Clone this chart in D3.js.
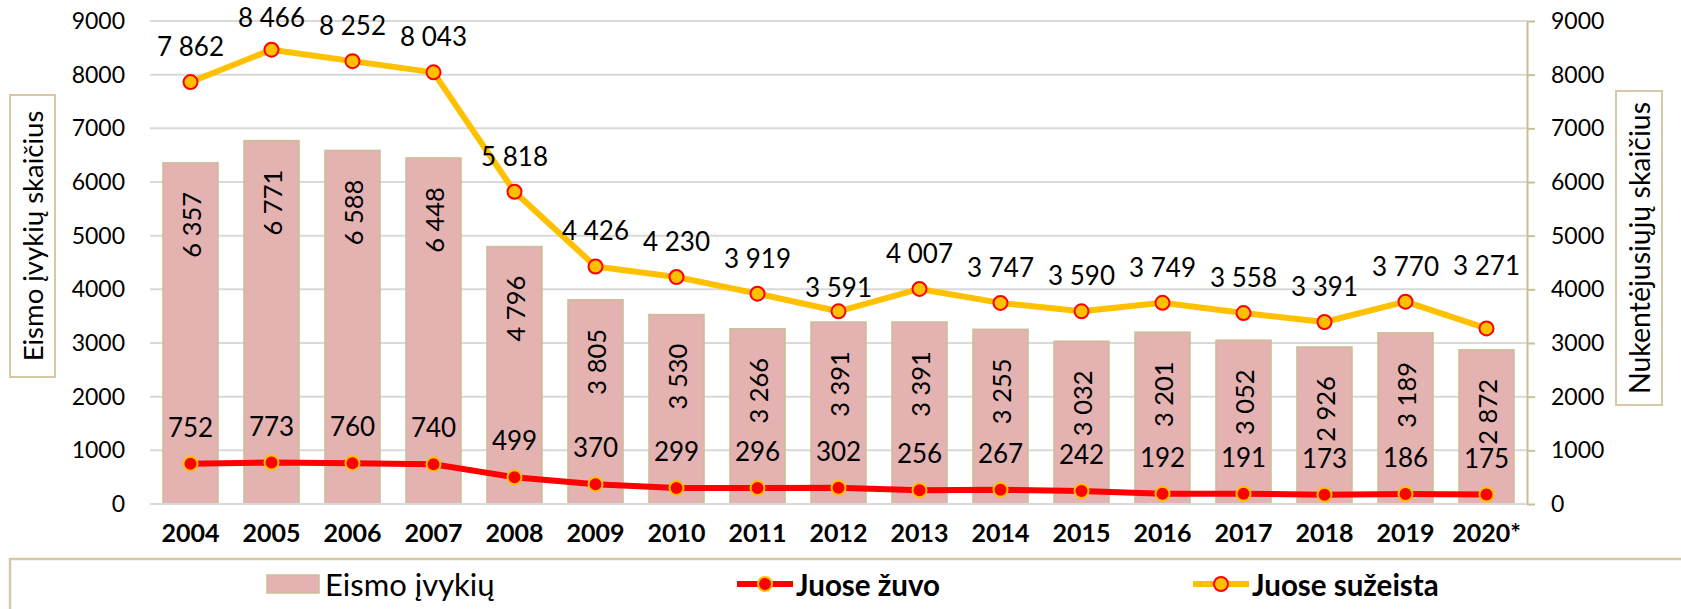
<!DOCTYPE html>
<html><head><meta charset="utf-8">
<script src="https://cdn.jsdelivr.net/npm/d3@7"></script>
<style>body{margin:0;background:#fff;overflow:hidden} svg{display:block} text{font-family:Lato,"Open Sans",sans-serif;fill:#000}</style>
</head><body>
<svg id="c" width="1681" height="609"></svg>
<script>
const years = ["2004","2005","2006","2007","2008","2009","2010","2011","2012","2013","2014","2015","2016","2017","2018","2019","2020*"];
const accidents = [6357,6771,6588,6448,4796,3805,3530,3266,3391,3391,3255,3032,3201,3052,2926,3189,2872];
const killed = [752,773,760,740,499,370,299,296,302,256,267,242,192,191,173,186,175];
const injured = [7862,8466,8252,8043,5818,4426,4230,3919,3591,4007,3747,3590,3749,3558,3391,3770,3271];
const yTicks = [0,1000,2000,3000,4000,5000,6000,7000,8000,9000];
const seriesNames = ["Eismo įvykių","Juose žuvo","Juose sužeista"];
const leftTitle = "Eismo įvykių skaičius";
const rightTitle = "Nukentėjusiųjų skaičius";

const fmt = v => { const s = String(v); return s.length > 3 ? s.slice(0, s.length-3) + " " + s.slice(-3) : s; };

const svg = d3.select("#c");
const L = 150, R = 1527, T = 21, B = 504;
const x = d3.scaleBand().domain(years).range([L, R]).paddingInner(0.32).paddingOuter(0.16);
const y = d3.scaleLinear().domain([0, 9000]).range([B, T]);
const y2 = d3.scaleLinear().domain([0, 9000]).range([B, T]);
const cx = d => x(d) + x.bandwidth()/2;

const GRID = "#d9d9d9", TAN = "#c9bf96";
const BAR = "#e3b2b1", RED = "#ff0000", GOLD = "#ffc000";

// gridlines
svg.append("g").selectAll("line").data(yTicks).join("line")
  .attr("x1", L).attr("x2", R).attr("y1", d => y(d)).attr("y2", d => y(d))
  .attr("stroke", GRID).attr("stroke-width", 2);

// left axis (labels only)
const gl = svg.append("g").attr("transform", `translate(${L},0)`)
  .call(d3.axisLeft(y).tickValues(yTicks).tickFormat(d3.format("d")).tickSize(0).tickPadding(25));
gl.select(".domain").remove();
gl.selectAll("text").style("font-size","23px").style("font-family","Lato");

// right axis
const gr = svg.append("g").attr("transform", `translate(${R},0)`)
  .call(d3.axisRight(y2).tickValues(yTicks).tickFormat(d3.format("d")).tickSize(8).tickSizeOuter(0).tickPadding(16));
gr.select(".domain").attr("stroke", TAN).attr("stroke-width", 2);
gr.selectAll(".tick line").attr("stroke", TAN).attr("stroke-width", 2);
gr.selectAll("text").style("font-size","23px").style("font-family","Lato");

// bars
svg.append("g").selectAll("rect").data(years).join("rect")
  .attr("x", d => x(d)).attr("width", x.bandwidth())
  .attr("y", (d,i) => y(accidents[i])).attr("height", (d,i) => B - y(accidents[i]))
  .attr("fill", BAR).attr("stroke", TAN).attr("stroke-width", 1.5);

// x axis
const gx = svg.append("g").attr("transform", `translate(0,${B})`)
  .call(d3.axisBottom(x).tickSize(0).tickPadding(20));
gx.select(".domain").attr("stroke", GRID).attr("stroke-width", 2).attr("d", `M${L},0H${R}`);
gx.selectAll("text").style("font-size","25px").style("font-weight","bold").style("font-family","Lato");

// bar labels (rotated)
svg.append("g").selectAll("text").data(years).join("text")
  .attr("transform", (d,i) => `translate(${cx(d)},${y(accidents[i]) + 62}) rotate(-90)`)
  .attr("text-anchor","middle").attr("dominant-baseline","central")
  .style("font-size","25.5px").text((d,i) => fmt(accidents[i]));

// lines
const line = d3.line();
function series(vals, stroke, mFill, mStroke) {
  svg.append("path").attr("d", line(years.map((d,i) => [cx(d), y2(vals[i])])))
    .attr("fill","none").attr("stroke", stroke).attr("stroke-width", 6).attr("stroke-linejoin","round");
  svg.append("g").selectAll("circle").data(years).join("circle")
    .attr("cx", d => cx(d)).attr("cy", (d,i) => y2(vals[i])).attr("r", 7)
    .attr("fill", mFill).attr("stroke", mStroke).attr("stroke-width", 2);
}
series(killed, RED, RED, GOLD);
series(injured, GOLD, GOLD, RED);

// point labels
const injuredNudge = {"2005": 3, "2012": 12, "2020*": -27};
svg.append("g").selectAll("text").data(years).join("text")
  .attr("x", d => cx(d)).attr("y", (d,i) => y2(killed[i]) - 37)
  .attr("text-anchor","middle").attr("dominant-baseline","central")
  .style("font-size","26px").text((d,i) => fmt(killed[i]));
svg.append("g").selectAll("text").data(years).join("text")
  .attr("x", d => cx(d)).attr("y", (d,i) => y2(injured[i]) - 36 + (injuredNudge[d] || 0))
  .attr("text-anchor","middle").attr("dominant-baseline","central")
  .style("font-size","26px").text((d,i) => fmt(injured[i]));

// axis title boxes
function titleBox(x0, y0, w, h, txt, fs) {
  svg.append("rect").attr("x", x0).attr("y", y0).attr("width", w).attr("height", h)
    .attr("fill","#fff").attr("stroke", "#d4cba6").attr("stroke-width", 2);
  svg.append("text").attr("transform", `translate(${x0 + w/2},${y0 + h/2}) rotate(-90)`)
    .attr("text-anchor","middle").attr("dominant-baseline","central")
    .style("font-size", fs + "px").text(txt);
}
titleBox(10, 95, 45, 282, leftTitle, 27.5);
titleBox(1616, 91, 46, 314, rightTitle, 28.5);

// legend
const lg = svg.append("g");
lg.append("rect").attr("x", 10).attr("y", 559).attr("width", 1700).attr("height", 70)
  .attr("fill","#fff").attr("stroke","#d4cba6").attr("stroke-width", 2.5);
const ly = 584;
lg.append("rect").attr("x", 267).attr("y", 575).attr("width", 52).attr("height", 18)
  .attr("fill", BAR).attr("stroke", TAN).attr("stroke-width", 1.5);
lg.append("text").attr("x", 325).attr("y", ly).attr("dominant-baseline","central")
  .style("font-size","31px").text(seriesNames[0]);
function legLine(x0, stroke, mFill, mStroke, label) {
  lg.append("line").attr("x1", x0).attr("x2", x0 + 56).attr("y1", ly).attr("y2", ly)
    .attr("stroke", stroke).attr("stroke-width", 6);
  lg.append("circle").attr("cx", x0 + 28).attr("cy", ly).attr("r", 7)
    .attr("fill", mFill).attr("stroke", mStroke).attr("stroke-width", 2);
  lg.append("text").attr("x", x0 + 59).attr("y", ly).attr("dominant-baseline","central")
    .style("font-size","29.5px").style("font-weight","bold").text(label);
}
legLine(737, RED, RED, GOLD, seriesNames[1]);
legLine(1193, GOLD, GOLD, RED, seriesNames[2]);
</script>
</body></html>
